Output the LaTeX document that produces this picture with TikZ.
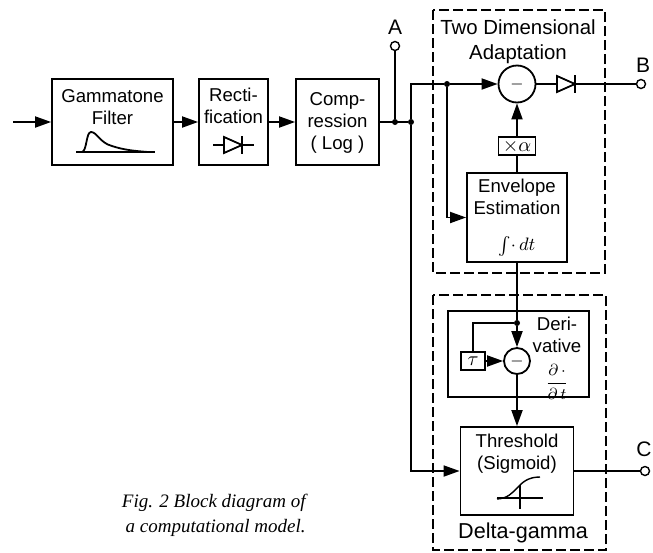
\documentclass[tikz,border=0pt]{standalone}
\usepackage{fontspec}
\usepackage{amsmath}
\setmainfont{Liberation Sans}
\newfontfamily\capfont{Liberation Serif}
\usetikzlibrary{arrows.meta, positioning, calc}
\newcommand{\procbox}[5]{%
  \node[procbox, minimum width=#3, minimum height=#4] (#1) at (#2) {#5};}
\tikzset{
  procbox/.style={draw, line width=0.9pt, inner sep=0pt},
  boxtext/.style={font=\fontsize{9.3}{10.8}\selectfont, align=center, inner sep=0pt},
  stagelbl/.style={font=\fontsize{10.2}{12.5}\selectfont, align=center, inner sep=0pt},
  wire/.style={line width=0.9pt},
  flow/.style={wire, -{Triangle[length=8pt, width=5.5pt]}},
  subtr/.style={draw, circle, line width=0.9pt, fill=white, inner sep=0pt,
                font=\fontsize{8}{8}\selectfont},
  port/.style={draw, circle, line width=0.7pt, fill=white, inner sep=0pt, minimum size=4.5pt},
  portlbl/.style={font=\fontsize{10.5}{12}\selectfont, inner sep=0pt},
  joint/.style={circle, fill, inner sep=0pt, minimum size=3pt},
  stage/.style={draw, dash pattern=on 5pt off 2pt, line width=1pt},
  pics/diode/.style={code={
     \draw[wire, fill=white] (-9,-8) -- (9,0) -- (-9,8) -- cycle;
     \draw[wire] (9,-9) -- (9,9);}},
}

\begin{document}
\begin{tikzpicture}[x=0.5pt, y=-0.5pt]
  \useasboundingbox (0,0) rectangle (653,552);
  % dashed stages
  \draw[stage] (433,10) rectangle (605,273);
  \draw[stage] (433,295) rectangle (606,550);
  \node[stagelbl] (adaptlbl) at (518,42) {Two Dimensional\\Adaptation};
  \node[stagelbl, font=\fontsize{10.8}{12}\selectfont] (dglbl) at (523,533) {Delta-gamma};
  \procbox{deriv}{518.5,354}{70.5pt}{43pt}{}

  % front end
  \procbox{gam}{112.5,122}{60.5pt}{43pt}{}
  \procbox{rect}{233.5,122}{34.5pt}{43pt}{}
  \procbox{comp}{337.5,122}{41.5pt}{43pt}{}
  \node[boxtext] (gamtxt) at (112.5,107) {Gammatone\\Filter};
  \node[boxtext] (recttxt) at (233.5,106) {Recti-\\fication};
  \node[boxtext] (comptxt) at (337.5,123) {Comp-\\ression\\( Log )};
  \draw[wire] (76,152) -- (155,152);
  \draw[wire] (82,152) .. controls (87,151) and (86,132) .. (91,132)
    .. controls (97,132) and (100,143) .. (112,146)
    .. controls (124,150) and (135,151) .. (148,152);
  \draw[wire] (213,145) -- (254,145);
  \pic at (233,145) {diode};

  % adaptation
  \node[subtr, minimum size=18.5pt] (sub1) at (517,84) {$-$};
  \procbox{alpha}{517,146}{18.5pt}{9pt}{$\times\alpha$}
  \procbox{env}{517,217.5}{50pt}{44.5pt}{}
  \node[boxtext] (envtxt) at (517,197) {Envelope\\Estimation};
  \node[boxtext] (envint) at (517,246) {$\int\!\cdot\,dt$};

  % delta-gamma
  \node[subtr, minimum size=13pt] (sub2) at (517,361) {$-$};
  \procbox{tau}{473,361}{12pt}{9pt}{$\tau$}
  \node[boxtext] (dertxt) at (557,335) {Deri-\\vative};
  \node[boxtext, font=\fontsize{8}{9}\selectfont] (derfrac) at (557,382)
       {$\dfrac{\partial\,\cdot}{\partial\,t}$};
  \procbox{thr}{517,471}{56.5pt}{44pt}{}
  \node[boxtext] (thrtxt) at (517,453.5) {Threshold\\(Sigmoid)};
  \draw[wire, line width=0.7pt] (497,498) -- (543,498);
  \draw[wire, line width=0.7pt] (520,485) -- (520,509);
  \draw[wire, line width=0.7pt] (497,499) .. controls (518,498) and (516,477) .. (540,477);

  % ports
  \node[port] (pA) at (395,46) {};
  \node[port] (pB) at (641,84) {};
  \node[port] (pC) at (645,471) {};
  \node[portlbl] (lA) at (395,27) {A};
  \node[portlbl] (lB) at (643,65) {B};
  \node[portlbl] (lC) at (644,449) {C};

  % connections
  \coordinate (src) at (13,122);
  \node[joint] (jA) at (395,122) {};
  \node[joint] (jV) at (411,122) {};
  \node[joint] (jE) at (447,84) {};
  \node[joint] (jD) at (517,323) {};
  \draw[flow] (src) -- (gam);
  \draw[flow] (gam) -- (rect);
  \draw[flow] (rect) -- (comp);
  \draw[wire] (comp) -- (jV);
  \draw[wire] (jA) -- (pA);
  \draw[wire] (jV) |- (jE);
  \draw[flow] (jE) -- (sub1);
  \draw[flow] (jE) |- (env);
  \draw[flow] (jV) |- (thr);
  \draw[wire] (sub1) -- (pB);
  \pic at (566,84) {diode};
  \draw[wire] (env) -- (alpha);
  \draw[flow] (alpha) -- (sub1);
  \draw[wire] (env) -- (jD);
  \draw[flow] (jD) -- (sub2);
  \draw[wire] (jD) -| (tau);
  \draw[flow] (tau) -- (sub2);
  \draw[flow] (sub2) -- (thr);
  \draw[wire] (thr) -- (pC);

  \node[font=\capfont\itshape\fontsize{9.5}{12.5}\selectfont, align=right,
        inner sep=0pt, anchor=east] (cap) at (306,515)
        {Fig. 2 Block diagram of\\a computational model.};
\end{tikzpicture}
\end{document}
